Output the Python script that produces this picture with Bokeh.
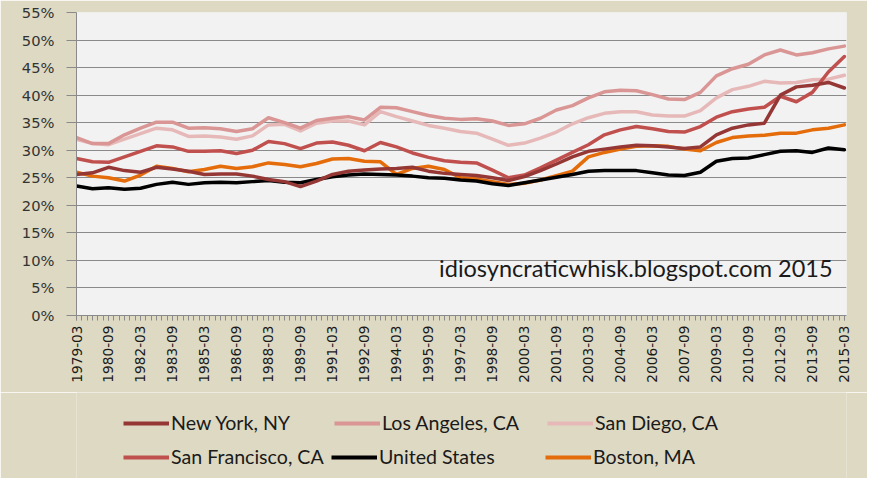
import math
from bokeh.plotting import figure
from bokeh.layouts import column
from bokeh.models import FixedTicker, Legend, LegendItem, Label, ColumnDataSource
from bokeh.embed import file_html
from bokeh.resources import INLINE

# ---- data (share of income, %) ----
quarters = ["1979-03", "1979-12", "1980-09", "1981-06", "1982-03", "1982-12", "1983-09",
            "1984-06", "1985-03", "1985-12", "1986-09", "1987-06", "1988-03", "1988-12",
            "1989-09", "1990-06", "1991-03", "1991-12", "1992-09", "1993-06", "1994-03",
            "1994-12", "1995-09", "1996-06", "1997-03", "1997-12", "1998-09", "1999-06",
            "2000-03", "2000-12", "2001-09", "2002-06", "2003-03", "2003-12", "2004-09",
            "2005-06", "2006-03", "2006-12", "2007-09", "2008-06", "2009-03", "2009-12",
            "2010-09", "2011-06", "2012-03", "2012-12", "2013-09", "2014-06", "2015-03"]

new_york = [25.6, 25.9, 26.9, 26.3, 26.0, 26.9, 26.6, 26.2, 25.6, 25.7, 25.7, 25.3, 24.7,
            24.3, 23.4, 24.4, 25.6, 26.2, 26.4, 26.6, 26.7, 26.9, 26.2, 25.8, 25.6, 25.4,
            25.0, 24.5, 25.2, 26.3, 27.5, 28.8, 29.8, 30.2, 30.6, 30.9, 30.8, 30.6, 30.3,
            30.6, 32.8, 34.0, 34.6, 34.9, 40.0, 41.5, 41.8, 42.3, 41.3]
los_angeles = [32.3, 31.2, 31.2, 32.8, 34.0, 35.1, 35.1, 34.0, 34.1, 33.9, 33.4, 33.9, 35.9,
               35.0, 34.0, 35.4, 35.8, 36.1, 35.5, 37.8, 37.7, 37.0, 36.3, 35.8, 35.6, 35.7,
               35.3, 34.5, 34.8, 35.8, 37.3, 38.1, 39.5, 40.6, 40.9, 40.8, 40.1, 39.3, 39.2,
               40.5, 43.5, 44.8, 45.6, 47.3, 48.2, 47.3, 47.7, 48.4, 48.9]
san_diego = [32.0, 31.2, 31.0, 32.0, 33.0, 34.0, 33.7, 32.5, 32.6, 32.4, 32.0, 32.6, 34.6,
             34.7, 33.5, 34.9, 35.3, 35.3, 34.6, 37.0, 36.1, 35.3, 34.5, 34.0, 33.4, 33.1,
             32.0, 30.9, 31.3, 32.2, 33.3, 34.8, 35.9, 36.7, 37.0, 37.0, 36.4, 36.2, 36.2,
             37.2, 39.5, 41.0, 41.6, 42.5, 42.2, 42.3, 42.8, 42.9, 43.6]
san_francisco = [28.5, 27.9, 27.8, 28.8, 29.8, 30.8, 30.6, 29.8, 29.8, 29.9, 29.4, 30.0, 31.6,
                 31.2, 30.3, 31.3, 31.5, 30.9, 29.9, 31.4, 30.6, 29.5, 28.7, 28.1, 27.8, 27.7,
                 26.4, 25.0, 25.5, 26.8, 28.2, 29.6, 31.0, 32.8, 33.7, 34.3, 33.9, 33.4, 33.3,
                 34.3, 36.0, 37.0, 37.5, 37.8, 39.8, 38.8, 40.5, 44.2, 47.0]
united_states = [23.5, 23.0, 23.2, 22.9, 23.1, 23.8, 24.2, 23.8, 24.1, 24.2, 24.1, 24.3, 24.5,
                 24.2, 24.1, 24.7, 25.2, 25.5, 25.7, 25.6, 25.5, 25.3, 25.0, 24.9, 24.6, 24.4,
                 23.9, 23.6, 24.1, 24.6, 25.1, 25.6, 26.2, 26.3, 26.3, 26.3, 25.9, 25.5, 25.4,
                 26.0, 28.0, 28.5, 28.6, 29.2, 29.8, 29.9, 29.6, 30.4, 30.1]
boston = [26.0, 25.3, 25.0, 24.4, 25.5, 27.1, 26.7, 26.1, 26.5, 27.1, 26.7, 27.0, 27.7,
          27.4, 27.0, 27.6, 28.4, 28.5, 28.0, 27.9, 25.6, 26.7, 27.1, 26.5, 25.0, 24.8,
          24.3, 23.8, 24.0, 24.6, 25.4, 26.2, 28.8, 29.6, 30.2, 30.7, 30.8, 30.7, 30.2,
          29.9, 31.4, 32.3, 32.6, 32.7, 33.1, 33.1, 33.7, 34.0, 34.6]

series_names = ["New York, NY", "Los Angeles, CA", "San Diego, CA",
                "San Francisco, CA", "United States", "Boston, MA"]

x_tick_labels = ["1979-03", "1980-09", "1982-03", "1983-09", "1985-03", "1986-09", "1988-03",
                 "1989-09", "1991-03", "1992-09", "1994-03", "1995-09", "1997-03", "1998-09",
                 "2000-03", "2001-09", "2003-03", "2004-09", "2006-03", "2007-09", "2009-03",
                 "2010-09", "2012-03", "2013-09", "2015-03"]
y_tick_labels = ["0%", "5%", "10%", "15%", "20%", "25%", "30%", "35%", "40%", "45%", "50%", "55%"]
all_quarters_first, all_quarters_last = "1979-03", "2015-03"

note_text = "idiosyncraticwhisk.blogspot.com  2015"


def q_index(s):
    y, m = s.split("-")
    return (int(y) - 1979) * 4 + (int(m) - 3) // 3


# ---- main figure ----
BG = "#ddd9c3"
GRID = "#8a8a8a"
W, H_MAIN, H_LEG = 867, 392, 86
n_last = q_index(all_quarters_last)

p = figure(width=W, height=H_MAIN, output_backend="svg", toolbar_location=None,
           x_range=(q_index(all_quarters_first), n_last + 0.4), y_range=(0, 55),
           min_border_left=76, min_border_right=21, min_border_top=12, min_border_bottom=77)
p.border_fill_color = BG
p.background_fill_color = "#f2f2f2"
p.outline_line_color = None

xs = [q_index(q) for q in quarters]
src = ColumnDataSource(dict(x=xs, ny=new_york, la=los_angeles, sd=san_diego,
                            sf=san_francisco, us=united_states, bos=boston))

colors = {"ny": "#953735", "la": "#d99694", "sd": "#e6b9b8",
          "sf": "#c0504d", "us": "#000000", "bos": "#e46c0a"}
order = ["sd", "la", "sf", "bos", "us", "ny"]
for key in order:
    p.line("x", key, source=src, line_color=colors[key], line_width=3.5,
           line_join="round", line_cap="round")

# axes
xt = [q_index(s) for s in x_tick_labels]
p.xaxis.ticker = FixedTicker(ticks=xt, minor_ticks=list(range(0, n_last + 1)))
p.xaxis.major_label_overrides = {t: s for t, s in zip(xt, x_tick_labels)}
p.xaxis.major_label_orientation = math.pi / 2
p.xaxis.major_label_text_font = "DejaVu Sans"
p.xaxis.major_label_text_font_size = "13.7px"
p.xaxis.major_label_text_color = "#1a1a1a"
p.xaxis.major_label_standoff = 5
p.xaxis.axis_line_color = GRID
p.xaxis.major_tick_line_color = GRID
p.xaxis.minor_tick_line_color = GRID
p.xaxis.major_tick_out = 5
p.xaxis.major_tick_in = 0
p.xaxis.minor_tick_out = 5
p.xaxis.minor_tick_in = 0
p.xgrid.visible = False

yt = [int(s.rstrip("%")) for s in y_tick_labels]
p.yaxis.ticker = FixedTicker(ticks=yt)
p.yaxis.major_label_overrides = {t: s for t, s in zip(yt, y_tick_labels)}
p.yaxis.major_label_text_font = "DejaVu Sans"
p.yaxis.major_label_text_font_size = "14.7px"
p.yaxis.major_label_text_color = "#333333"
p.yaxis.major_label_standoff = 12
p.yaxis.axis_line_color = GRID
p.yaxis.major_tick_line_color = GRID
p.yaxis.major_tick_out = 10
p.yaxis.major_tick_in = 0
p.yaxis.minor_tick_line_color = None
p.ygrid.ticker = FixedTicker(ticks=yt)
p.ygrid.grid_line_color = GRID
p.ygrid.grid_line_width = 1.2

# watermark note
p.add_layout(Label(x=68.0, y=8.6, text=note_text, text_font="Lato", text_font_size="23.5px",
                   text_color="#1a1a1a", text_baseline="middle"))

# ---- legend strip (a second figure under the chart) ----
leg = figure(width=W, height=H_LEG, output_backend="svg", toolbar_location=None,
             x_range=(0, 1), y_range=(0, 1), x_axis_type=None, y_axis_type=None,
             min_border=0)
leg.border_fill_color = BG
leg.background_fill_color = BG
leg.outline_line_color = None
leg.xgrid.visible = False
leg.ygrid.visible = False

keys_in_legend = ["ny", "la", "sd", "sf", "us", "bos"]
slot_x = [47, 258, 471, 47, 255, 469]
slot_y = [44, 44, 44, 10, 10, 10]
for key, name, sx, sy in zip(keys_in_legend, series_names, slot_x, slot_y):
    r = leg.line("x", key, source=src, line_color=colors[key], line_width=3.8, visible=False)
    lg = Legend(items=[LegendItem(label=name, renderers=[r])], location=(sx, sy),
                glyph_width=46, glyph_height=22, label_height=22, label_standoff=2,
                padding=0, margin=0, spacing=0, inactive_fill_alpha=0,
                border_line_color=None, background_fill_alpha=0,
                label_text_font="Lato", label_text_font_size="19.6px",
                label_text_color="#1a1a1a")
    leg.add_layout(lg, "center")

open("out.html", "w").write(file_html(column(p, leg, spacing=0), INLINE))
